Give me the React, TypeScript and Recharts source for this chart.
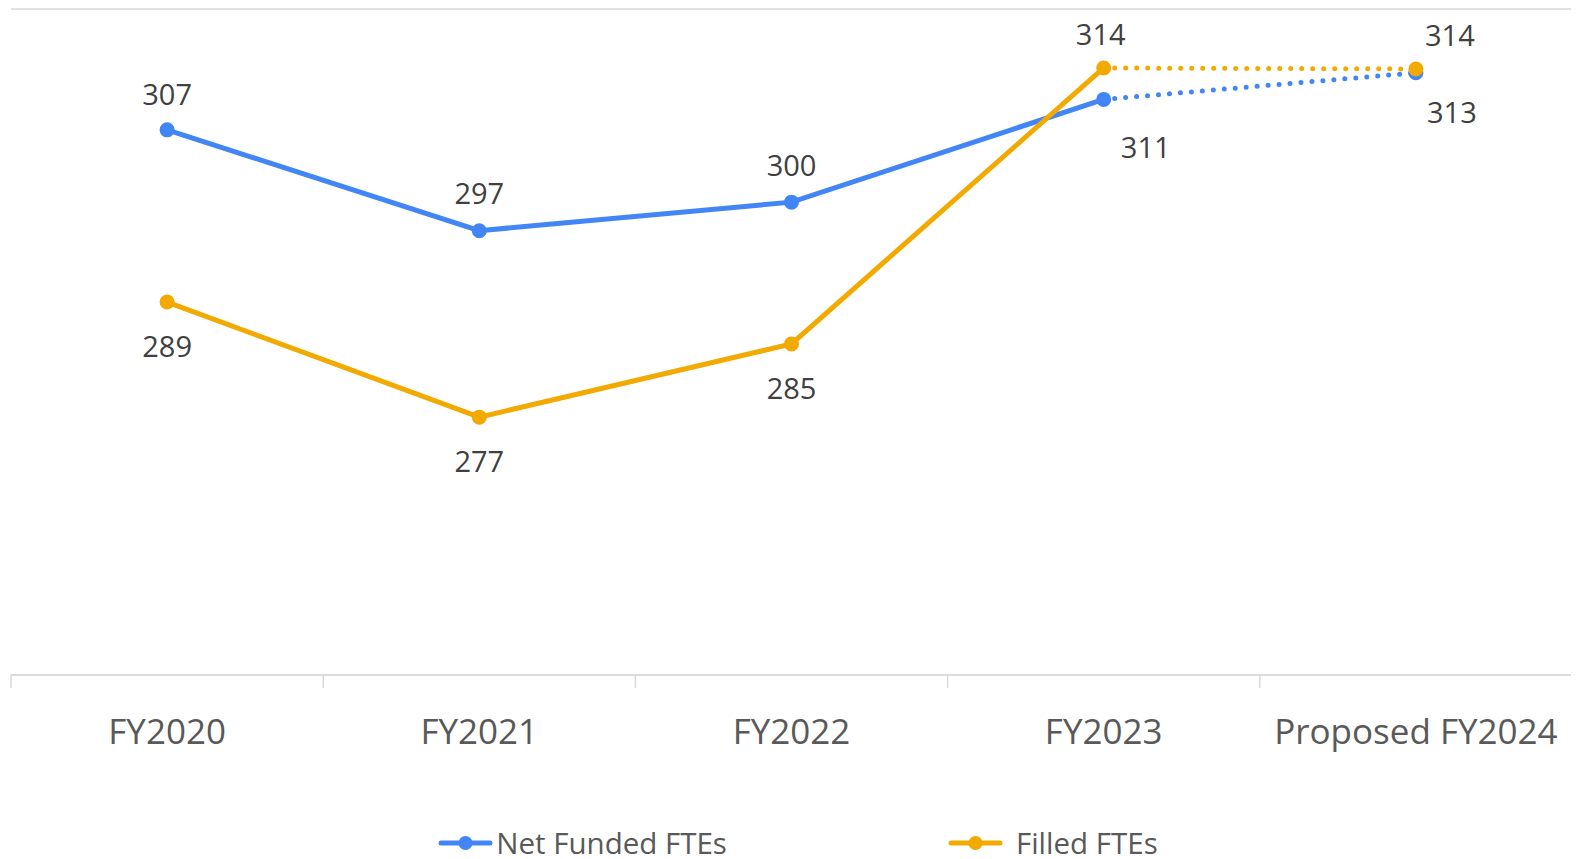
import React from 'react';
import { LineChart, Line, XAxis, YAxis, CartesianGrid, Legend, LabelList } from 'recharts';

const categories = ['FY2020', 'FY2021', 'FY2022', 'FY2023', 'Proposed FY2024'];
const netFunded = [307.3, 296.7, 299.7, 310.5, 313.3];
const filled = [289.2, 277.1, 284.8, 313.8, 313.7];
const lastActualIndex = 3;
const yTicks = [250, 260, 270, 280, 290, 300, 310, 320];

const BLUE = '#4285F4';
const ORANGE = '#F2A900';
const FONT = '"Open Sans", sans-serif';

const data = categories.map((cat, i) => ({
  cat,
  netSolid: i <= lastActualIndex ? netFunded[i] : null,
  netDotted: i >= lastActualIndex ? netFunded[i] : null,
  filledSolid: i <= lastActualIndex ? filled[i] : null,
  filledDotted: i >= lastActualIndex ? filled[i] : null,
}));

// label offsets (style only)
const netOffsets = [[0, -36], [0, -38], [0, -38], [42, 47], [36, 39]];
const filledOffsets = [[0, 43], [0, 43], [0, 44], [-3, -34], [34, -34]];

const makeLabel = (offsets: number[][], onlyIndex?: number) => (props: any) => {
  const { x, y, value, index } = props;
  if (value == null) return null;
  if (onlyIndex !== undefined && index !== onlyIndex) return null;
  if (onlyIndex === undefined && index > lastActualIndex) return null;
  const [dx, dy] = offsets[index];
  return (
    <text
      x={x + dx}
      y={y + dy}
      textAnchor="middle"
      dominantBaseline="central"
      fontFamily={FONT}
      fontSize={29}
      fill="#404040"
    >
      {Math.round(value)}
    </text>
  );
};

const makeEndDot = (color: string) => (props: any) => {
  const { cx, cy, index } = props;
  if (index !== categories.length - 1 || cy == null) return <g key={`d-${index}`} />;
  return <circle key={`d-${index}`} cx={cx} cy={cy} r={6.5} fill={color} stroke={color} strokeWidth={2} />;
};

const XTick = (props: any) => {
  const { x, y, payload, index, visibleTicksCount } = props;
  const off = payload && payload.offset != null ? payload.offset : 156;
  const isLast = index === (visibleTicksCount ?? categories.length) - 1;
  return (
    <g>
      <line x1={x - off} x2={x - off} y1={y} y2={y + 13} stroke="#d9d9d9" strokeWidth={1.5} />
      {isLast && <line x1={x + off} x2={x + off} y1={y} y2={y + 13} stroke="#d9d9d9" strokeWidth={1.5} />}
      <text
        x={x}
        y={y + 55}
        textAnchor="middle"
        dominantBaseline="central"
        fontFamily={FONT}
        fontSize={35}
        fill="#595959"
      >
        {payload.value}
      </text>
    </g>
  );
};

const legendItems = [
  { name: 'Net Funded FTEs', color: BLUE, textGap: 3 },
  { name: 'Filled FTEs', color: ORANGE, textGap: 13 },
];

const LegendContent = () => (
  <div
    style={{
      display: 'flex',
      justifyContent: 'center',
      alignItems: 'center',
      gap: 221,
      height: 32,
      paddingLeft: 13,
      fontFamily: FONT,
      fontSize: 29.5,
      color: '#595959',
    }}
  >
    {legendItems.map((it) => (
      <div key={it.name} style={{ display: 'flex', alignItems: 'center', gap: it.textGap }}>
        <svg width={55} height={16}>
          <line x1={3} x2={52} y1={8} y2={8} stroke={it.color} strokeWidth={5} strokeLinecap="round" />
          <circle cx={27.5} cy={8} r={7} fill={it.color} />
        </svg>
        <span style={{ lineHeight: '32px', whiteSpace: 'nowrap' }}>{it.name}</span>
      </div>
    ))}
  </div>
);

export default function App() {
  return (
    <LineChart
      width={1571}
      height={851}
      data={data}
      margin={{ top: 1, right: 7, bottom: 0, left: 3 }}
    >
      <CartesianGrid vertical={false} stroke="#d9d9d9" strokeWidth={1.5} />
      <XAxis
        dataKey="cat"
        scale="band"
        interval={0}
        height={152}
        tickSize={0}
        tickMargin={0}
        tickLine={false}
        axisLine={{ stroke: '#d9d9d9', strokeWidth: 1.5 }}
        tick={<XTick />}
      />
      <YAxis domain={[250, 320]} ticks={yTicks} width={0} tick={false} axisLine={false} tickLine={false} />
      <Legend verticalAlign="bottom" height={32} content={<LegendContent />} />
      <Line
        dataKey="netSolid"
        stroke={BLUE}
        strokeWidth={5}
        dot={{ r: 6.5, fill: BLUE, stroke: BLUE, strokeWidth: 2 }}
        activeDot={false}
        isAnimationActive={false}
        connectNulls={false}
        legendType="none"
      >
        <LabelList dataKey="netSolid" content={makeLabel(netOffsets)} />
      </Line>
      <Line
        dataKey="netDotted"
        stroke={BLUE}
        strokeWidth={5}
        strokeDasharray="0 11"
        strokeLinecap="round"
        dot={makeEndDot(BLUE)}
        activeDot={false}
        isAnimationActive={false}
        legendType="none"
      >
        <LabelList dataKey="netDotted" content={makeLabel(netOffsets, 4)} />
      </Line>
      <Line
        dataKey="filledSolid"
        stroke={ORANGE}
        strokeWidth={5}
        dot={{ r: 6.5, fill: ORANGE, stroke: ORANGE, strokeWidth: 2 }}
        activeDot={false}
        isAnimationActive={false}
        legendType="none"
      >
        <LabelList dataKey="filledSolid" content={makeLabel(filledOffsets)} />
      </Line>
      <Line
        dataKey="filledDotted"
        stroke={ORANGE}
        strokeWidth={5}
        strokeDasharray="0 11"
        strokeLinecap="round"
        dot={makeEndDot(ORANGE)}
        activeDot={false}
        isAnimationActive={false}
        legendType="none"
      >
        <LabelList dataKey="filledDotted" content={makeLabel(filledOffsets, 4)} />
      </Line>
    </LineChart>
  );
}
